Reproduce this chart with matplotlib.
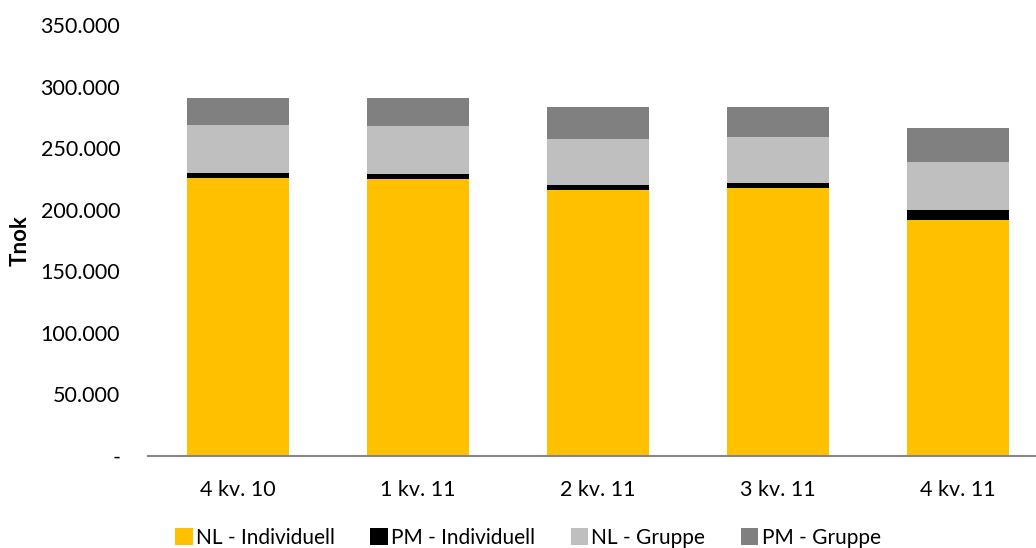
import matplotlib.pyplot as plt
import numpy as np

quarters = ["4 kv. 10", "1 kv. 11", "2 kv. 11", "3 kv. 11", "4 kv. 11"]
nl_individuell = [225800, 224700, 216100, 217400, 191800]
pm_individuell = [4300, 4000, 4000, 4300, 8300]
nl_gruppe = [38900, 39200, 37500, 37300, 38900]
pm_gruppe = [21600, 22700, 25700, 24300, 27300]

y_ticks = [0, 50000, 100000, 150000, 200000, 250000, 300000, 350000]
y_labels = ["-", "50.000", "100.000", "150.000", "200.000", "250.000", "300.000", "350.000"]

plt.rcParams["font.family"] = ["Lato", "DejaVu Sans"]

fig = plt.figure(figsize=(10.36, 5.48), dpi=100)
ax = fig.add_axes([148 / 1036, 1 - 456 / 548, 900 / 1036, (456 - 25) / 548])

x = np.arange(len(quarters))
width = 0.567
series = [
    ("NL - Individuell", nl_individuell, "#ffc000"),
    ("PM - Individuell", pm_individuell, "#000000"),
    ("NL - Gruppe", nl_gruppe, "#bfbfbf"),
    ("PM - Gruppe", pm_gruppe, "#808080"),
]
bottom = np.zeros(len(quarters))
for name, vals, color in series:
    ax.bar(x, vals, width, bottom=bottom, color=color, label=name)
    bottom += np.array(vals)

ax.set_xlim(-0.5, len(quarters) - 0.5)
ax.set_ylim(0, 350000)
ax.set_yticks(y_ticks)
ax.set_yticklabels(y_labels)
ax.set_xticks(x)
ax.set_xticklabels(quarters)
ax.tick_params(axis="both", length=0, labelsize=15.5)
ax.tick_params(axis="x", pad=17)
ax.tick_params(axis="y", pad=20)
for side in ["top", "right", "left"]:
    ax.spines[side].set_visible(False)
ax.spines["bottom"].set_color("#868686")
ax.spines["bottom"].set_linewidth(1.5)

ax.set_ylabel("Tnok", fontsize=16, fontweight="bold", labelpad=7)

ax.legend(loc="center", bbox_to_anchor=(0.422, -0.19), ncol=4, frameon=False,
          fontsize=15, handlelength=0.85, handleheight=0.85, handletextpad=0.15,
          columnspacing=1.7, borderaxespad=0, borderpad=0)

plt.savefig("out.png", dpi=100)
